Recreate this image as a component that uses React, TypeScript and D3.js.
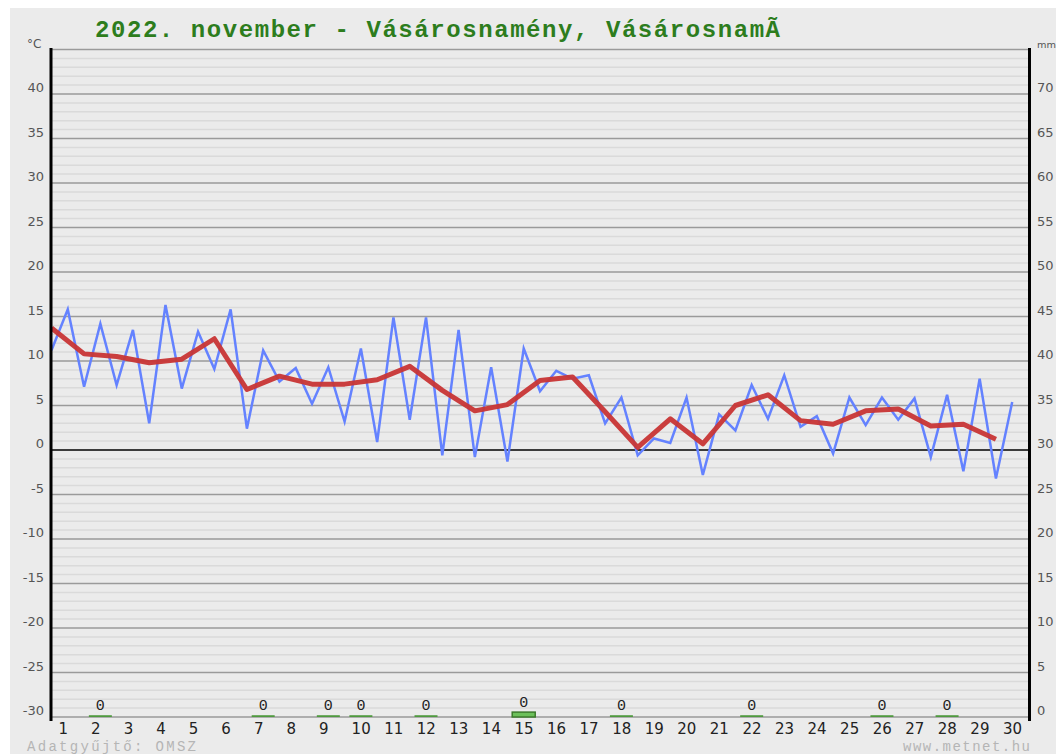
import React from "react";
import * as d3 from "d3";

const titleText = "2022. november - Vásárosnamény, VásárosnamÃ";
const dayLabels = ["1","2","3","4","5","6","7","8","9","10","11","12","13","14","15","16","17","18","19","20","21","22","23","24","25","26","27","28","29","30"];
// alternating half-day temperature readings (blue)
const tempReadings = [
  11.2, 15.8, 7.1, 14.2, 7.3, 13.5, 3.0, 16.3, 6.9, 13.3,
  9.1, 15.8, 2.4, 11.2, 7.7, 9.2, 5.2, 9.3, 3.2, 11.4,
  0.9, 14.9, 3.4, 14.9, -0.6, 13.5, -0.8, 9.3, -1.3, 11.4,
  6.6, 8.9, 8.0, 8.4, 3.0, 5.9, -0.6, 1.3, 0.8, 5.9,
  -2.8, 4.0, 2.2, 7.3, 3.5, 8.4, 2.6, 3.8, -0.4, 5.9,
  2.8, 5.9, 3.4, 5.8, -0.8, 6.2, -2.4, 8.0, -3.2, 5.4,
];
// daily mean temperature (red)
const dailyMean = [
  13.7, 10.8, 10.5, 9.8, 10.2, 12.5, 6.8, 8.3, 7.4, 7.4,
  7.9, 9.4, 6.7, 4.4, 5.1, 7.8, 8.2, 4.3, 0.3, 3.5,
  0.7, 5.0, 6.2, 3.3, 2.9, 4.4, 4.6, 2.7, 2.9, 1.2,
];
const precipDays = [2, 7, 9, 10, 12, 15, 18, 22, 26, 28];
const precipValues = [0.2, 0.2, 0.2, 0.2, 0.2, 0.55, 0.2, 0.2, 0.2, 0.2];
const tempTicks = [40, 35, 30, 25, 20, 15, 10, 5, 0, -5, -10, -15, -20, -25, -30];
const mmTicks = [70, 65, 60, 55, 50, 45, 40, 35, 30, 25, 20, 15, 10, 5, 0];

export default function App() {
  const W = 1056, H = 754;
  const x = d3.scaleLinear().domain([0, 30]).range([51.5, 1028.5]);
  const y = d3.scaleLinear().domain([-30, 45]).range([717, 49.5]);
  const yMm = d3.scaleLinear().domain([0, 75]).range([717, 49.5]);

  const minor = d3.range(-29, 45).filter((v) => v % 5 !== 0);
  const major = d3.range(-25, 45, 5).filter((v) => v !== 0);

  const blueLine = d3
    .line<number>()
    .x((_, i) => x(i / 2))
    .y((d) => y(d));
  const redLine = d3
    .line<number>()
    .x((_, i) => x(i))
    .y((d) => y(d));

  const gray = "#555";

  return (
    <svg
      width={W}
      height={H}
      style={{ position: "absolute", left: 0, top: 0, background: "#fff" }}
    >
      <rect x={10} y={8} width={W - 10} height={H - 8} fill="#ebebeb" />
      <text
        x={95}
        y={37}
        fontFamily="'Liberation Mono', 'Courier New', monospace"
        fontWeight="bold"
        fontSize={24}
        fill="#2d7d1d"
        textLength={685}
        lengthAdjust="spacing"
      >
        {titleText}
      </text>

      {/* grid */}
      {minor.map((v) => (
        <line key={"mi" + v} x1={x(0)} x2={x(30)} y1={y(v)} y2={y(v)} stroke="#dadada" strokeWidth={1.5} />
      ))}
      {major.map((v) => (
        <line key={"ma" + v} x1={x(0)} x2={x(30)} y1={y(v)} y2={y(v)} stroke="#9a9a9a" strokeWidth={1.5} />
      ))}
      <line x1={x(0)} x2={x(30)} y1={y(45)} y2={y(45)} stroke="#9a9a9a" strokeWidth={1.5} />
      <line x1={x(0)} x2={x(30)} y1={y(-30)} y2={y(-30)} stroke="#9a9a9a" strokeWidth={1.5} />
      <line x1={x(0)} x2={x(30)} y1={y(0)} y2={y(0)} stroke="#000" strokeWidth={1.5} />

      {/* precipitation */}
      {precipDays.map((d, i) => {
        const v = precipValues[i];
        const top = yMm(v);
        const cx = x(d - 0.5);
        const h = yMm(0) - top;
        return (
          <g key={"p" + d}>
            <rect
              x={cx - 11.5}
              y={top}
              width={23}
              height={Math.max(h, 1.5)}
              fill={h > 3 ? "#6cc05a" : "#4f9a3f"}
              stroke={h > 3 ? "#3c7a2c" : "none"}
              strokeWidth={1.5}
            />
            <text
              x={cx}
              y={top - 5}
              textAnchor="middle"
              fontFamily="'Liberation Mono', monospace"
              fontSize={15}
              fill="#222"
            >
              {Math.floor(v)}
            </text>
          </g>
        );
      })}

      {/* lines */}
      <path d={blueLine(tempReadings) || ""} fill="none" stroke="#6482ff" strokeWidth={2.5} />
      <path
        d={redLine(dailyMean) || ""}
        fill="none"
        stroke="#c83535"
        strokeWidth={5}
        strokeLinejoin="round"
        strokeOpacity={0.95}
      />

      {/* axes */}
      <line x1={51} x2={51} y1={48} y2={721} stroke="#000" strokeWidth={3} />
      <line x1={1029.5} x2={1029.5} y1={48} y2={721} stroke="#000" strokeWidth={3} />

      {tempTicks.map((t) => (
        <text
          key={"tl" + t}
          x={44}
          y={y(t) - 2}
          textAnchor="end"
          fontFamily="'DejaVu Sans', sans-serif"
          fontSize={13}
          fill={gray}
        >
          {t}
        </text>
      ))}
      <text x={27} y={48} fontFamily="'DejaVu Sans', sans-serif" fontSize={12} fill={gray}>
        °C
      </text>
      {mmTicks.map((t) => (
        <text
          key={"ml" + t}
          x={1037}
          y={yMm(t) - 2}
          fontFamily="'DejaVu Sans', sans-serif"
          fontSize={13}
          fill={gray}
        >
          {t}
        </text>
      ))}
      <text x={1037} y={48} fontFamily="'DejaVu Sans', sans-serif" fontSize={9} fill={gray} textLength={19} lengthAdjust="spacingAndGlyphs">
        mm
      </text>

      {dayLabels.map((lab, i) => (
        <text
          key={"d" + lab}
          x={x(i) + 7}
          y={734}
          fontFamily="'DejaVu Sans', sans-serif"
          fontSize={15}
          fill="#222"
        >
          {lab}
        </text>
      ))}

      <text
        x={27}
        y={751}
        fontFamily="'Liberation Mono', monospace"
        fontSize={14}
        fill="#b5b5b5"
        textLength={169}
        lengthAdjust="spacing"
      >
        Adatgyűjtő: OMSZ
      </text>
      <text
        x={903}
        y={751}
        fontFamily="'Liberation Mono', monospace"
        fontSize={14}
        fill="#b5b5b5"
        textLength={127}
        lengthAdjust="spacing"
      >
        www.metnet.hu
      </text>
    </svg>
  );
}
